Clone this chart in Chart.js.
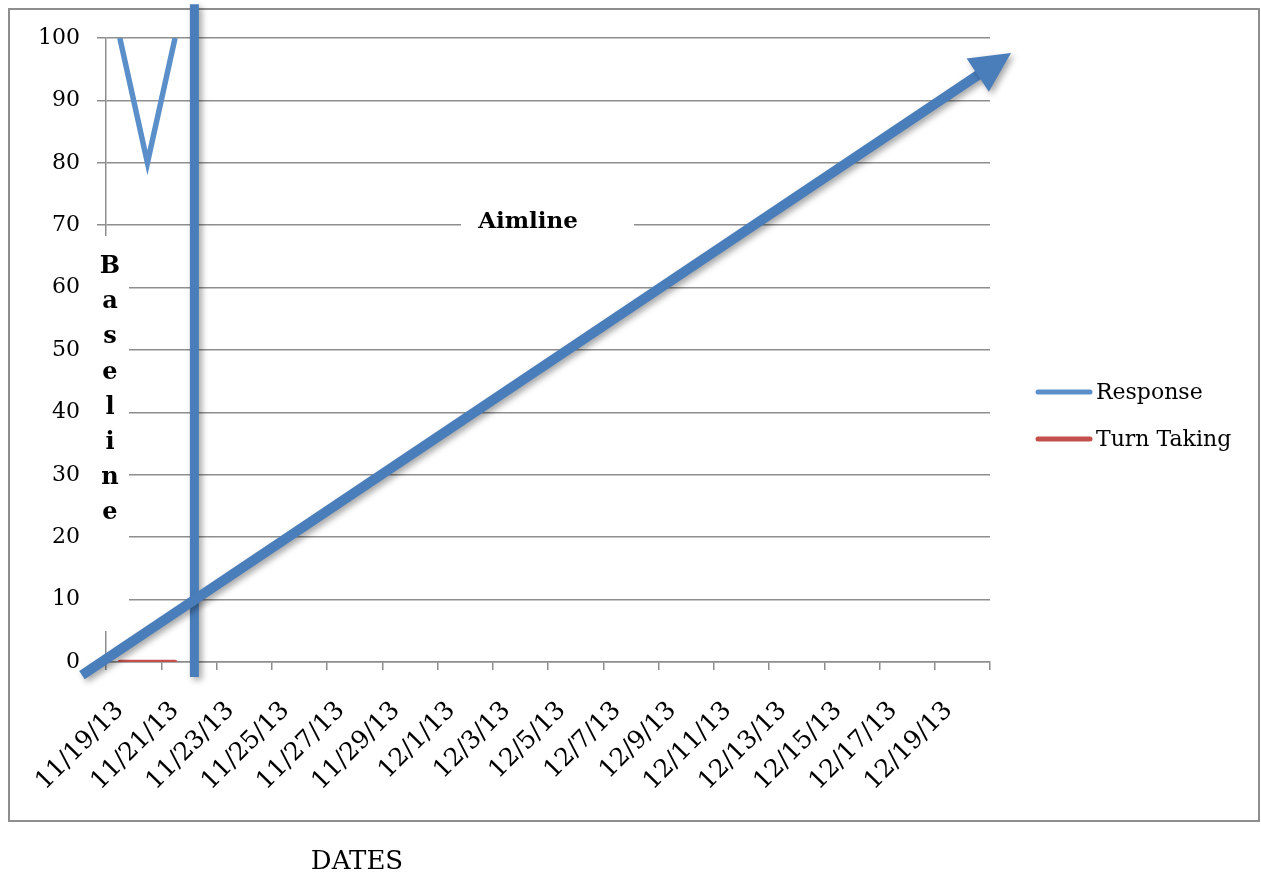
<!DOCTYPE html>
<html>
<head>
<meta charset="utf-8">
<title>Response and Turn Taking by Date</title>
<script src="https://cdn.jsdelivr.net/npm/chart.js@4/dist/chart.umd.min.js"></script>
<style>
  html, body { margin: 0; padding: 0; background: #ffffff; }
  #wrap { width: 1261px; height: 873px; position: relative; }
</style>
</head>
<body>
<div id="wrap"><canvas id="chart" width="1261" height="873"></canvas></div>
<script>
// Session dates (one category per day)
const dates = [
  '11/19/13', '11/20/13', '11/21/13', '11/22/13', '11/23/13', '11/24/13',
  '11/25/13', '11/26/13', '11/27/13', '11/28/13', '11/29/13', '11/30/13',
  '12/1/13', '12/2/13', '12/3/13', '12/4/13', '12/5/13', '12/6/13',
  '12/7/13', '12/8/13', '12/9/13', '12/10/13', '12/11/13', '12/12/13',
  '12/13/13', '12/14/13', '12/15/13', '12/16/13', '12/17/13', '12/18/13',
  '12/19/13', '12/20/13'
];

// Baseline observations
const responseValues = [100, 80, 100];
const turnTakingValues = [0, 0, 0];

// Y axis range and step
const yMin = 0;
const yMax = 100;
const yStep = 10;

// Phase-change line (category position) and the aimline from start to goal
const phaseLineX = 2.7;
const phaseLineRange = [-2.4, 105.4];
const aimlineStart = { x: -1.37, y: -2.1 };
const aimlineEnd = { x: 32.26, y: 97.6 };

const seriesNames = ['Response', 'Turn Taking'];
const seriesColors = ['#5b8fca', '#c4504c'];

const FONT = '"DejaVu Serif", serif';
const GRID = '#8e8e8e';
const MARK = '#4a7ebb';

// White label boxes, the phase line, the aimline arrow, legend and frame
const overlay = {
  id: 'overlay',
  beforeDatasetsDraw(chart) {
    const ctx = chart.ctx;
    ctx.save();
    ctx.fillStyle = '#ffffff';
    ctx.fillRect(88, 236, 41, 395);   // "Baseline" box
    ctx.fillRect(461, 200, 173, 40);  // "Aimline" box
    ctx.restore();
  },
  afterDraw(chart) {
    const ctx = chart.ctx;
    const xs = chart.scales.x, ys = chart.scales.y;

    // Outer frame
    ctx.save();
    ctx.strokeStyle = GRID;
    ctx.lineWidth = 2;
    ctx.strokeRect(9, 9, 1250, 812);
    ctx.restore();

    // Phase-change line and aimline arrow, with soft shadow
    ctx.save();
    ctx.shadowColor = 'rgba(0,0,0,0.35)';
    ctx.shadowBlur = 6;
    ctx.shadowOffsetX = 3;
    ctx.shadowOffsetY = 3;
    ctx.strokeStyle = MARK;
    ctx.fillStyle = MARK;
    ctx.lineWidth = 9;
    ctx.lineCap = 'butt';

    const px = xs.getPixelForValue(phaseLineX);
    ctx.beginPath();
    ctx.moveTo(px, ys.getPixelForValue(phaseLineRange[1]));
    ctx.lineTo(px, ys.getPixelForValue(phaseLineRange[0]));
    ctx.stroke();

    const x0 = xs.getPixelForValue(aimlineStart.x), y0 = ys.getPixelForValue(aimlineStart.y);
    const x1 = xs.getPixelForValue(aimlineEnd.x), y1 = ys.getPixelForValue(aimlineEnd.y);
    const ang = Math.atan2(y1 - y0, x1 - x0);
    const headLen = 40, headHalf = 20;
    const bx = x1 - headLen * Math.cos(ang), by = y1 - headLen * Math.sin(ang);
    ctx.lineWidth = 10;
    ctx.beginPath();
    ctx.moveTo(x0, y0);
    ctx.lineTo(bx + 2 * Math.cos(ang), by + 2 * Math.sin(ang));
    ctx.stroke();
    ctx.beginPath();
    ctx.moveTo(x1, y1);
    ctx.lineTo(bx - headHalf * Math.sin(ang), by + headHalf * Math.cos(ang));
    ctx.lineTo(bx + headHalf * Math.sin(ang), by - headHalf * Math.cos(ang));
    ctx.closePath();
    ctx.fill();
    ctx.restore();

    // Text labels
    ctx.save();
    ctx.fillStyle = '#000000';
    ctx.textAlign = 'center';
    ctx.textBaseline = 'alphabetic';
    ctx.font = 'bold 23px ' + FONT;
    ctx.fillText('Aimline', 528, 228);
    ctx.font = 'bold 24px ' + FONT;
    const letters = 'Baseline'.split('');
    letters.forEach((ch, i) => ctx.fillText(ch, 110, 273 + i * 35.2));
    ctx.font = '26px ' + FONT;
    ctx.fillText('DATES', 357, 869);
    ctx.restore();

    // Legend
    ctx.save();
    ctx.font = '22px ' + FONT;
    ctx.textAlign = 'left';
    ctx.textBaseline = 'middle';
    ctx.lineCap = 'round';
    ctx.lineWidth = 5;
    seriesNames.forEach((name, i) => {
      const y = 392 + i * 47;
      ctx.strokeStyle = seriesColors[i];
      ctx.beginPath();
      ctx.moveTo(1038, y);
      ctx.lineTo(1090, y);
      ctx.stroke();
      ctx.fillStyle = '#000000';
      ctx.fillText(name, 1096, y + 1);
    });
    ctx.restore();
  }
};

new Chart(document.getElementById('chart'), {
  type: 'line',
  data: {
    labels: dates,
    datasets: [
      {
        label: seriesNames[0],
        data: responseValues,
        borderColor: seriesColors[0],
        borderWidth: 5.5,
        pointRadius: 0,
        tension: 0,
        borderJoinStyle: 'miter'
      },
      {
        label: seriesNames[1],
        data: turnTakingValues,
        borderColor: seriesColors[1],
        borderWidth: 4.5,
        pointRadius: 0,
        tension: 0,
        borderCapStyle: 'round'
      }
    ]
  },
  options: {
    responsive: false,
    animation: false,
    devicePixelRatio: 1,
    layout: { padding: { left: 0, top: 38, right: 271, bottom: 0 } },
    plugins: {
      legend: { display: false },
      title: { display: false },
      tooltip: { enabled: false }
    },
    scales: {
      x: {
        type: 'category',
        offset: true,
        afterFit(scale) { scale.height = 211; },
        grid: {
          offset: true,
          drawOnChartArea: false,
          drawTicks: true,
          tickLength: 8,
          lineWidth: 1.5,
          color: (c) => (c.type !== 'tick' || c.index % 2 === 0) ? GRID : 'rgba(0,0,0,0)'
        },
        border: { display: true, color: GRID, width: 1.5 },
        ticks: {
          autoSkip: false,
          maxRotation: 45,
          minRotation: 45,
          padding: 26,
          color: '#000000',
          font: { family: FONT, size: 25 },
          callback: (v, i) => (i % 2 === 0 ? dates[i] : '')
        }
      },
      y: {
        min: yMin,
        max: yMax,
        afterFit(scale) { scale.width = 106; },
        grid: {
          drawOnChartArea: true,
          drawTicks: true,
          tickLength: 9,
          lineWidth: 1.5,
          color: GRID
        },
        border: { display: true, color: GRID, width: 1.5 },
        ticks: {
          stepSize: yStep,
          padding: 17,
          color: '#000000',
          font: { family: FONT, size: 22 }
        }
      }
    }
  },
  plugins: [overlay]
});
</script>
</body>
</html>
